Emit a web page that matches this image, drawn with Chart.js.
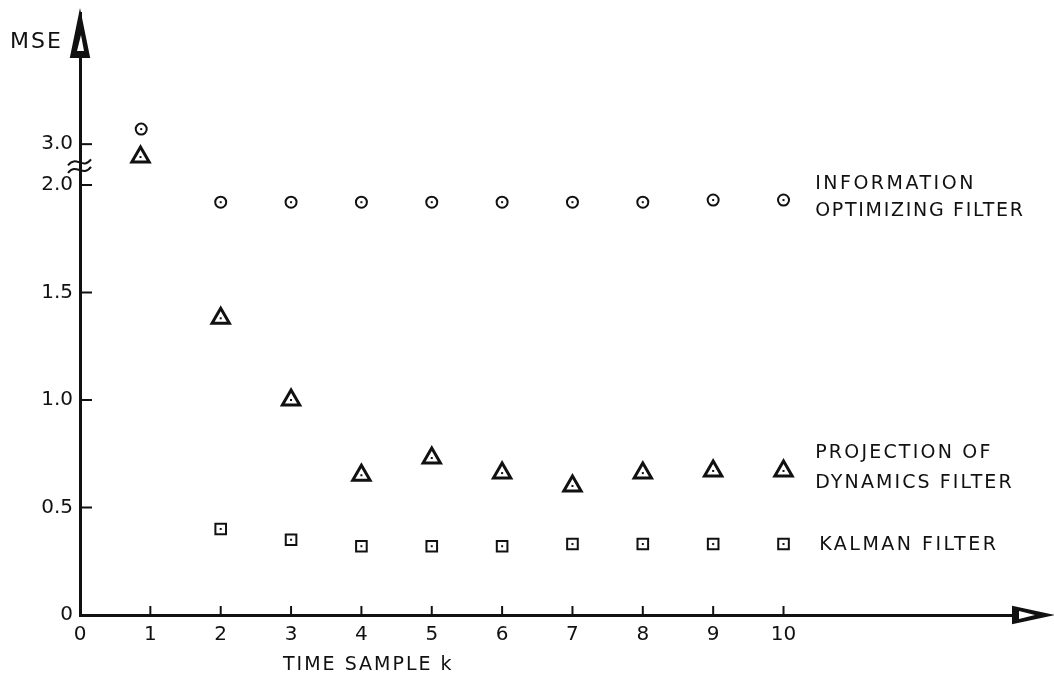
<!DOCTYPE html>
<html>
<head>
<meta charset="utf-8">
<script src="https://cdn.jsdelivr.net/npm/chart.js@4.4.1/dist/chart.umd.min.js"></script>
<style>
  html, body { margin: 0; padding: 0; background: #fff; }
  #wrap { width: 1054px; height: 682px; }
</style>
</head>
<body>
<div id="wrap"><canvas id="mseChart"></canvas></div>
<script>
// MSE vs time sample k
const infoK = [0.87, 2, 3, 4, 5, 6, 7, 8, 9, 10];
const infoMSE = [3.07, 1.92, 1.92, 1.92, 1.92, 1.92, 1.92, 1.92, 1.93, 1.93];
const projK = [0.86, 2, 3, 4, 5, 6, 7, 8, 9, 10];
const projMSE = [2.94, 1.38, 1.00, 0.65, 0.73, 0.66, 0.60, 0.66, 0.67, 0.67];
const kalmanK = [2, 3, 4, 5, 6, 7, 8, 9, 10];
const kalmanMSE = [0.40, 0.35, 0.32, 0.32, 0.32, 0.33, 0.33, 0.33, 0.33];

const xTickValues = [0, 1, 2, 3, 4, 5, 6, 7, 8, 9, 10];
const yTickValues = [0, 0.5, 1.0, 1.5, 2.0, 3.0];
const yTickLabels = ["0", "0.5", "1.0", "1.5", "2.0", "3.0"];

const INK = "#111";
const FONT = "'DejaVu Sans', sans-serif";

// broken y axis: everything above the break is shifted down
const BREAK_SHIFT = 0.81;
const toAxis = v => (v > 2.5 ? v - BREAK_SHIFT : v);
const pts = (ks, vs) => ks.map((k, i) => ({ x: k, y: toAxis(vs[i]) }));

function line(ctx, x1, y1, x2, y2) {
  ctx.beginPath();
  ctx.moveTo(x1, y1);
  ctx.lineTo(x2, y2);
  ctx.stroke();
}

function text(ctx, str, x, y, size, spacing) {
  ctx.font = size + "px " + FONT;
  ctx.letterSpacing = spacing + "px";
  ctx.textAlign = "left";
  ctx.textBaseline = "middle";
  ctx.fillText(str, x, y);
}

function arrow(ctx, pts, inner) {
  ctx.fillStyle = INK;
  ctx.beginPath();
  ctx.moveTo(pts[0][0], pts[0][1]);
  ctx.lineTo(pts[1][0], pts[1][1]);
  ctx.lineTo(pts[2][0], pts[2][1]);
  ctx.closePath();
  ctx.fill();
  ctx.stroke();
  ctx.fillStyle = "#fff";
  ctx.beginPath();
  ctx.moveTo(inner[0][0], inner[0][1]);
  ctx.lineTo(inner[1][0], inner[1][1]);
  ctx.lineTo(inner[2][0], inner[2][1]);
  ctx.closePath();
  ctx.fill();
  ctx.fillStyle = INK;
}

const inkPlugin = {
  id: "ink",
  afterDraw(chart) {
    const { ctx, scales: { x, y }, chartArea } = chart;
    const x0 = x.getPixelForValue(0);
    const y0 = y.getPixelForValue(0);
    ctx.save();
    ctx.strokeStyle = INK;
    ctx.fillStyle = INK;
    ctx.lineWidth = 2;

    // tick marks point into the plot
    xTickValues.slice(1).forEach(k => {
      const px = x.getPixelForValue(k);
      line(ctx, px, y0, px, y0 - 9);
    });
    yTickValues.slice(1).forEach(v => {
      const py = y.getPixelForValue(toAxis(v));
      line(ctx, x0, py, x0 + 12, py);
    });

    // axis break
    [2.07, 2.105].forEach(v => {
      const py = y.getPixelForValue(v);
      ctx.beginPath();
      ctx.moveTo(x0 - 12, py + 3);
      ctx.bezierCurveTo(x0 - 4, py - 8, x0 + 3, py + 8, x0 + 11, py - 3);
      ctx.stroke();
    });

    // arrow heads
    ctx.lineWidth = 2;
    ctx.lineJoin = "miter";
    const top = chartArea.top;
    arrow(ctx, [[x0, top], [x0 - 9, top + 44], [x0 + 9, top + 44]],
      [[x0 + 1, top + 22], [x0 - 3, top + 38], [x0 + 4, top + 38]]);
    const right = chartArea.right;
    arrow(ctx, [[right + 9, y0], [right - 28, y0 - 8], [right - 28, y0 + 8]],
      [[right - 6, y0], [right - 22, y0 - 4], [right - 22, y0 + 4]]);

    // centre dots inside the markers
    chart.data.datasets.forEach((ds, i) => {
      chart.getDatasetMeta(i).data.forEach(p => ctx.fillRect(p.x - 1, p.y - 1, 2, 2));
    });

    // series labels next to the last marker
    const lastPt = i => {
      const d = chart.getDatasetMeta(i).data;
      return d[d.length - 1];
    };
    const lx = x.getPixelForValue(10.45);
    let p = lastPt(0);
    text(ctx, "INFORMATION", lx, p.y - 16, 19, 2.5);
    text(ctx, "OPTIMIZING FILTER", lx, p.y + 11, 19, 1.7);
    p = lastPt(1);
    text(ctx, "PROJECTION OF", lx, p.y - 18, 19, 2.2);
    text(ctx, "DYNAMICS FILTER", lx, p.y + 12, 19, 2.1);
    p = lastPt(2);
    text(ctx, "KALMAN FILTER", lx + 4, p.y + 1, 19, 2.5);

    // axis titles
    text(ctx, "MSE", 10, 42, 22, 2);
    text(ctx, "TIME SAMPLE k", 283, 665, 19, 2);
    ctx.restore();
  }
};

const marker = {
  backgroundColor: "#fff",
  borderColor: INK,
  showLine: false
};

new Chart(document.getElementById("mseChart"), {
  type: "scatter",
  data: {
    datasets: [
      { ...marker, label: "Information optimizing filter", data: pts(infoK, infoMSE),
        pointStyle: "circle", pointRadius: 5.5, borderWidth: 2 },
      { ...marker, label: "Projection of dynamics filter", data: pts(projK, projMSE),
        pointStyle: "triangle", pointRadius: 10, borderWidth: 3 },
      { ...marker, label: "Kalman filter", data: pts(kalmanK, kalmanMSE),
        pointStyle: "rect", pointRadius: 7.5, borderWidth: 2 }
    ]
  },
  options: {
    responsive: true,
    maintainAspectRatio: false,
    animation: false,
    layout: { padding: { top: 10, right: 8, left: 0, bottom: 0 } },
    plugins: { legend: { display: false }, tooltip: { enabled: false } },
    scales: {
      x: {
        type: "linear",
        min: 0,
        max: 13.66,
        afterFit: s => { s.height = 67; },
        afterBuildTicks: s => { s.ticks = xTickValues.map(v => ({ value: v })); },
        grid: { display: false, drawTicks: false },
        border: { display: true, color: INK, width: 3 },
        ticks: { color: INK, font: { family: FONT, size: 20 }, padding: 8,
                 maxRotation: 0, autoSkip: false, callback: v => String(v) }
      },
      y: {
        type: "linear",
        min: 0,
        max: 2.8,
        afterFit: s => { s.width = 80; s.paddingTop = 0; s.paddingBottom = 0; },
        afterBuildTicks: s => { s.ticks = yTickValues.map(v => ({ value: toAxis(v) })); },
        grid: { display: false, drawTicks: false },
        border: { display: true, color: INK, width: 3 },
        ticks: { color: INK, font: { family: FONT, size: 20, lineHeight: 1 }, padding: 7,
                 autoSkip: false, callback: (v, i) => yTickLabels[i] }
      }
    }
  },
  plugins: [inkPlugin]
});
</script>
</body>
</html>
